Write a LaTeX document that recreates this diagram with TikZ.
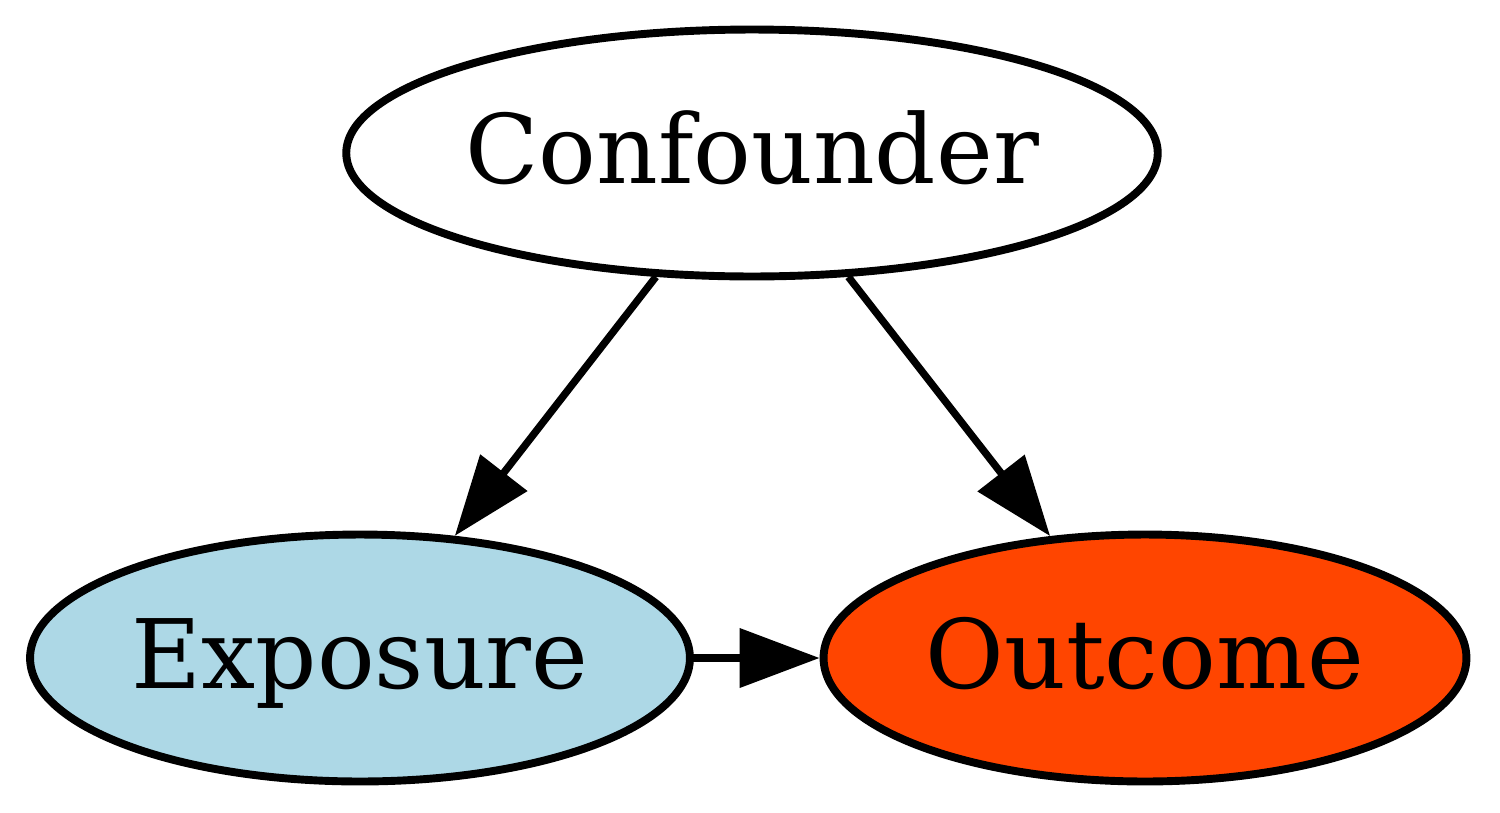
\documentclass[tikz,border=0pt]{standalone}
\usepackage{fontspec}
\setmainfont{DejaVu Serif}
\usetikzlibrary{shapes.geometric, arrows.meta}
\definecolor{lightblue}{HTML}{ADD8E6}
\definecolor{orangered}{HTML}{FF4500}

\begin{document}
\begin{tikzpicture}[x=0.02cm, y=-0.02cm,
    var/.style={ellipse, draw, line width=4.5pt, inner sep=0pt, minimum height=4.94cm,
        font=\fontsize{54.6}{60}\selectfont, text height=47.8pt, text depth=13.65pt},
    link/.style={line width=4.2pt, -{Triangle[length=1.6cm, width=1.16cm]}}]
    \useasboundingbox (0, 0) rectangle (1500, 812);

    % nodes
    \node [var, minimum width=15.96cm] (conf) at (752, 153) {Confounder};
    \node [var, minimum width=13.2cm, fill=lightblue] (expo) at (360, 658) {Exposure};
    \node [var, minimum width=12.86cm, fill=orangered] (outc) at (1145, 658) {Outcome};

    % edges
    \draw [link] (conf) -- (expo);
    \draw [link] (conf) -- (outc);
    \draw [link] (expo) -- (outc);
\end{tikzpicture}
\end{document}
